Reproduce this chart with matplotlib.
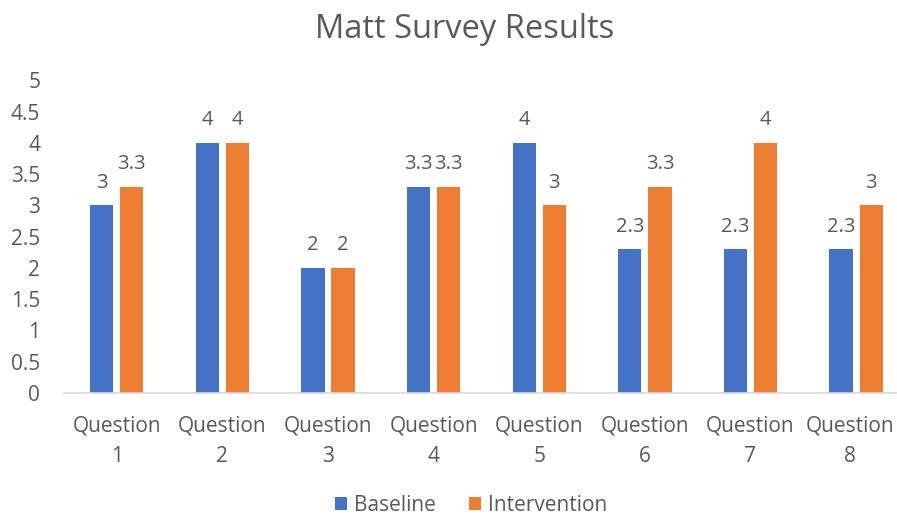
import matplotlib.pyplot as plt
import matplotlib.transforms as mtransforms
import numpy as np

plt.rcParams['font.family'] = ['Open Sans', 'DejaVu Sans']

questions = ['Question\n1', 'Question\n2', 'Question\n3', 'Question\n4',
             'Question\n5', 'Question\n6', 'Question\n7', 'Question\n8']
baseline = [3, 4, 2, 3.3, 4, 2.3, 2.3, 2.3]
intervention = [3.3, 4, 2, 3.3, 3, 3.3, 4, 3]
y_ticks = [0, 0.5, 1, 1.5, 2, 2.5, 3, 3.5, 4, 4.5, 5]

blue = '#4472C4'
orange = '#ED7D31'
text_col = '#595959'

fig = plt.figure(figsize=(8.97, 5.17), dpi=100)
ax = fig.add_axes([0.0713, 0.2398, 0.942, 0.605])

x = np.arange(len(questions))
w = 0.22
off = 0.143
b1 = ax.bar(x - off, baseline, w, color=blue, label='Baseline')
b2 = ax.bar(x + off, intervention, w, color=orange, label='Intervention')

for bars, vals in ((b1, baseline), (b2, intervention)):
    for bar, v in zip(bars, vals):
        ax.annotate(f'{v:g}', (bar.get_x() + bar.get_width() / 2, v),
                    xytext=(0, 9), textcoords='offset points',
                    ha='center', va='bottom', fontsize=14.5, color=text_col)

ax.set_xlim(-0.5, len(questions) - 0.5)
ax.set_ylim(0, 5)
ax.set_yticks(y_ticks)
ax.set_yticklabels([f'{t:g}' for t in y_ticks])
ax.set_xticks(x)
ax.set_xticklabels(questions, linespacing=1.6)
ax.tick_params(axis='both', length=0, labelsize=15, colors=text_col)
ax.tick_params(axis='y', pad=17)
ax.tick_params(axis='x', pad=16)

# last category label sits at the figure edge, nudge it inward
last = ax.get_xticklabels()[-1]
shift = mtransforms.ScaledTranslation(-6 / 100, 0, fig.dpi_scale_trans)
last.set_transform(last.get_transform() + shift)

for s in ('top', 'right', 'left'):
    ax.spines[s].set_visible(False)
ax.spines['bottom'].set_color('#D9D9D9')
ax.spines['bottom'].set_linewidth(1.2)

fig.text(0.518, 0.942, 'Matt Survey Results', ha='center', va='center',
         fontsize=23.5, color=text_col)

fig.legend(handles=[b1, b2], loc='center', bbox_to_anchor=(0.525, 0.023),
           ncol=2, frameon=False, fontsize=15, labelcolor=text_col,
           handlelength=0.6, handleheight=0.6, handletextpad=0.3,
           columnspacing=1.6)

fig.savefig('out.png', dpi=100)
